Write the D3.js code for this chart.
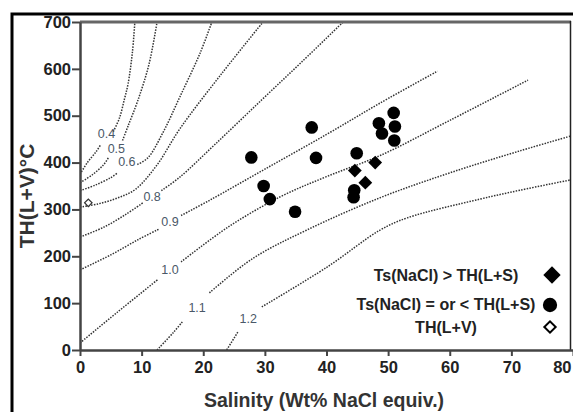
<!DOCTYPE html>
<html lang="en">
<head>
	<meta charset="utf-8">
	<title>Salinity vs TH</title>
	<style>
		body { margin: 0; background: #fff; }
		svg text { font-family: "Liberation Sans", Arial, sans-serif; }
		.tick text { font-weight: bold; font-size: 16.5px; fill: #222; }
		.tick line { stroke: #444; stroke-width: 2; }
		.domain { stroke: #444; stroke-width: 2.5; }
		.iso { fill: none; stroke: #333; stroke-width: 1.5; stroke-dasharray: 1.5 1.3; }
		.isolab { font-size: 12.5px; fill: #4a5868; }
		.legend text { font-weight: bold; font-size: 16px; fill: #222; }
	</style>
</head>
<body>
	<svg id="chart" width="573" height="412"></svg>

	<script src="https://d3js.org/d3.v7.min.js"></script>
	<script>
		"use strict";

		var xTicks = [0, 10, 20, 30, 40, 50, 60, 70, 80];
		var yTicks = [0, 100, 200, 300, 400, 500, 600, 700];

		// dotted density lines, [salinity, T], broken where the label sits
		var iso04 = [[[0,375],[1.2,400],[2.6,423],[3.3,437]], [[5.4,466],[6.4,495],[7.2,535],[7.8,568],[8.5,635],[8.9,700]]];
		var iso05 = [[[0,357],[2,374],[3.8,395],[4.6,410]], [[6.9,447],[7.8,478],[9.4,533],[11.2,610],[12.5,700]]];
		var iso06 = [[[0,340],[2.5,352],[5,368],[6,377]], [[9.3,396],[11,410],[13.5,465],[16.2,540],[19.5,634],[21.4,700]]];
		var iso07 = [[[0,305],[3,312],[6,324],[9,343],[12.5,395],[16.2,472],[23,590],[29.7,700]]];
		var iso08 = [[[0,241],[4,263],[7.5,290],[10.2,314]], [[13.2,340],[16.2,369],[22,440],[29.5,534],[36,615],[42.7,700]]];
		var iso09 = [[[0,171],[5,203],[9.5,236],[12.8,258]], [[16.4,287],[21.1,320],[30,386],[40,460],[48.7,527],[58,595]]];
		var iso10 = [[[0,15],[6,80],[12.6,150]], [[16.4,188],[24,262],[32.5,327],[40,370],[48.7,415],[60,490],[72.7,576]]];
		var iso11 = [[[12.5,0],[15.2,38],[16.6,60]], [[21,122],[28,195],[36.8,256],[48.7,325],[60,378],[71.4,425],[80,458]]];
		var iso12 = [[[23.8,0],[25.6,38]], [[29.5,92],[40.1,177],[48.7,256],[53.1,282],[64.9,322],[71.4,341],[80,364]]];

		var isoNames = ["0.4", "0.5", "0.6", "", "0.8", "0.9", "1.0", "1.1", "1.2"];
		var isoLines = [iso04, iso05, iso06, iso07, iso08, iso09, iso10, iso11, iso12];
		var isoLabelAt = [[4.3,460],[5.9,430],[7.6,401],null,[11.7,327],[14.6,273],[14.6,170],[19,90],[27.3,67]];

		// Ts(NaCl) = or < TH(L+S)
		var circles = [[27.8,411],[29.8,350],[30.8,322],[34.9,295],[37.6,475],[38.3,410],[44.9,420],
			[44.5,341],[44.4,326],[48.5,484],[49,462],[50.9,506],[51.1,477],[51,447]];
		// Ts(NaCl) > TH(L+S)
		var diamonds = [[44.6,383],[46.3,357],[47.9,400]];
		// TH(L+V)
		var openDiamonds = [[1.35,314]];

		var legendLabels = ["Ts(NaCl) > TH(L+S)", "Ts(NaCl) = or < TH(L+S)", "TH(L+V)"];

		var svg = d3.select("#chart");
		var x = d3.scaleLinear().domain([0, 80]).range([80, 573]);
		var y = d3.scaleLinear().domain([0, 700]).range([350, 22]);

		// outer frame
		svg.append("path").attr("d", "M12,412V14H573")
			.attr("fill", "none").attr("stroke", "#000").attr("stroke-width", 3);

		svg.append("clipPath").attr("id", "clip").append("rect")
			.attr("x", 80).attr("y", 22).attr("width", 491).attr("height", 328);

		var line = d3.line().x(function(d){ return x(d[0]); }).y(function(d){ return y(d[1]); })
			.curve(d3.curveCatmullRom);

		var g = svg.append("g").attr("clip-path", "url(#clip)");
		isoLines.forEach(function(segs){
			segs.forEach(function(s){
				g.append("path").attr("class", "iso").attr("d", line(s));
			});
		});

		isoLabelAt.forEach(function(p, i){
			if (!p) return;
			svg.append("text").attr("class", "isolab")
				.attr("x", x(p[0])).attr("y", y(p[1]))
				.attr("text-anchor", "middle").attr("dominant-baseline", "central")
				.text(isoNames[i]);
		});

		// plot frame top and right
		svg.append("line").attr("x1", 80).attr("x2", 571).attr("y1", 22).attr("y2", 22)
			.attr("stroke", "#666").attr("stroke-width", 3);
		svg.append("line").attr("x1", 570.5).attr("x2", 570.5).attr("y1", 21).attr("y2", 350)
			.attr("stroke", "#222").attr("stroke-width", 1.5);

		svg.append("g").attr("transform", "translate(80,0)")
			.call(d3.axisLeft(y).tickValues(yTicks).tickSize(8).tickSizeOuter(0).tickPadding(1));
		var xa = svg.append("g").attr("transform", "translate(0,350)")
			.call(d3.axisBottom(x).tickValues(xTicks).tickSize(6).tickSizeOuter(0).tickPadding(5));
		// last tick label sits at the window edge, keep it inside
		xa.selectAll(".tick text").filter(function(d){ return d === 80; })
			.attr("text-anchor", "end").attr("dx", -2);

		var circ = d3.symbol().type(d3.symbolCircle).size(125);
		var dia = d3.symbol().type(d3.symbolSquare).size(95);

		svg.selectAll(".pt").data(circles).enter().append("path")
			.attr("d", circ)
			.attr("transform", function(d){ return "translate(" + x(d[0]) + "," + y(d[1]) + ")"; })
			.attr("fill", "#000");
		svg.selectAll(".dm").data(diamonds).enter().append("path")
			.attr("d", dia)
			.attr("transform", function(d){ return "translate(" + x(d[0]) + "," + y(d[1]) + ") rotate(45)"; })
			.attr("fill", "#000");
		svg.selectAll(".od").data(openDiamonds).enter().append("path")
			.attr("d", d3.symbol().type(d3.symbolSquare).size(28))
			.attr("transform", function(d){ return "translate(" + x(d[0]) + "," + y(d[1]) + ") rotate(45)"; })
			.attr("fill", "#fff").attr("stroke", "#333").attr("stroke-width", 1.2);

		// legend
		var lg = svg.append("g").attr("class", "legend");
		var rows = [275, 304, 327];
		legendLabels.forEach(function(t, i){
			lg.append("text").attr("x", 446).attr("y", rows[i])
				.attr("text-anchor", "middle").attr("dominant-baseline", "central").text(t);
		});
		lg.append("path").attr("d", d3.symbol().type(d3.symbolSquare).size(150))
			.attr("transform", "translate(552," + rows[0] + ") rotate(45)").attr("fill", "#000");
		lg.append("path").attr("d", d3.symbol().type(d3.symbolCircle).size(160))
			.attr("transform", "translate(550," + (rows[1] + 1) + ")").attr("fill", "#000");
		lg.append("path").attr("d", d3.symbol().type(d3.symbolSquare).size(64))
			.attr("transform", "translate(550," + rows[2] + ") rotate(45)")
			.attr("fill", "#fff").attr("stroke", "#000").attr("stroke-width", 2);

		// axis titles
		svg.append("text").attr("x", 324).attr("y", 400)
			.attr("text-anchor", "middle").attr("dominant-baseline", "central")
			.attr("font-weight", "bold").attr("font-size", 19.5).attr("fill", "#333")
			.text("Salinity (Wt% NaCl equiv.)");
		svg.append("text").attr("transform", "translate(26,196) rotate(-90)")
			.attr("text-anchor", "middle").attr("dominant-baseline", "central")
			.attr("font-weight", "bold").attr("font-size", 21).attr("fill", "#333")
			.text("TH(L+V)°C");
	</script>
</body>
</html>
